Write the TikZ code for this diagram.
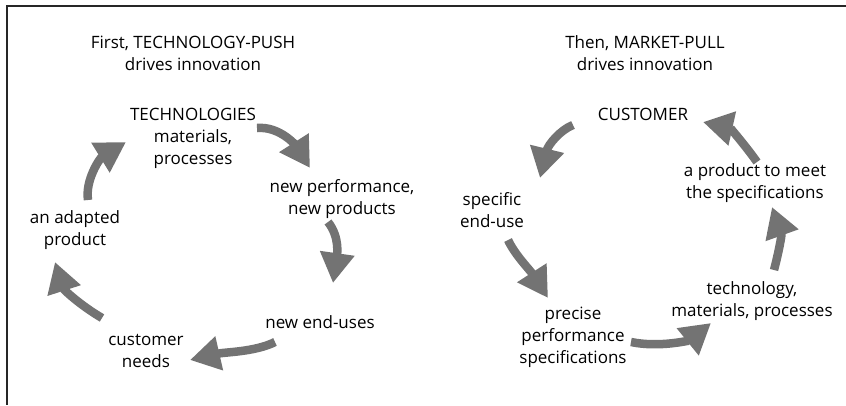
\documentclass[tikz,border=0pt]{standalone}
\usepackage{fontspec}
\setmainfont{Open Sans}
\usetikzlibrary{arrows.meta}
\begin{document}
\begin{tikzpicture}[x=1pt,y=-1pt,
  lbl/.style={align=center,inner sep=0pt,font=\fontsize{17}{22}\selectfont},
  bigarrow/.style={draw=black!55,line width=8.5pt,-{Triangle[width=33pt,length=30pt]}},
  frame/.style={line width=1.2pt,black!85}]
\useasboundingbox (0,0) rectangle (846,405);
\draw[frame] (846,6) -- (7,6) -- (7,405);
% left cycle
\node[lbl] (t1) at (193,53) {First, TECHNOLOGY-PUSH\\drives innovation};
\node[lbl] (tech) at (193,138) {TECHNOLOGIES\\materials,\\processes};
\node[lbl] (perf) at (342,199) {new performance,\\new products};
\node[lbl] (uses) at (320,322) {new end-uses};
\node[lbl] (needs) at (146,351) {customer\\needs};
\node[lbl] (adapt) at (75,230) {an adapted\\product};
% right cycle
\node[lbl] (t2) at (645,53) {Then, MARKET-PULL\\drives innovation};
\node[lbl] (cust) at (643,114) {CUSTOMER};
\node[lbl] (spec) at (492,210) {specific\\end-use};
\node[lbl] (prec) at (573,337) {precise\\performance\\specifications};
\node[lbl] (techm) at (752,301) {technology,\\materials, processes};
\node[lbl] (prod) at (755,183) {a product to meet\\the specifications};
% arrow end points
\coordinate (a1s) at (257,128); \coordinate (a1e) at (310,168);
\coordinate (a2s) at (328,222); \coordinate (a2e) at (333,283);
\coordinate (a3s) at (275,342); \coordinate (a3e) at (190,360);
\coordinate (a4s) at (102,318); \coordinate (a4e) at (55,262);
\coordinate (a5s) at (88,200);  \coordinate (a5e) at (126,142);
\coordinate (b1s) at (573,125); \coordinate (b1e) at (540,178);
\coordinate (b2s) at (508,240); \coordinate (b2e) at (548,298);
\coordinate (b3s) at (631,342); \coordinate (b3e) at (711,323);
\coordinate (b4s) at (774,270); \coordinate (b4e) at (772,207);
\coordinate (b5s) at (757,162); \coordinate (b5e) at (703,122);
\draw[bigarrow] (a1s) .. controls (280,126) and (296,146) .. (a1e);
\draw[bigarrow] (a2s) .. controls (340,237) and (337,255) .. (a2e);
\draw[bigarrow] (a3s) .. controls (255,352) and (225,352) .. (a3e);
\draw[bigarrow] (a4s) .. controls (80,305) and (64,290) .. (a4e);
\draw[bigarrow] (a5s) .. controls (85,180) and (100,158) .. (a5e);
\draw[bigarrow] (b1s) .. controls (560,130) and (548,145) .. (b1e);
\draw[bigarrow] (b2s) .. controls (515,255) and (530,270) .. (b2e);
\draw[bigarrow] (b3s) .. controls (660,348) and (690,340) .. (b3e);
\draw[bigarrow] (b4s) .. controls (778,255) and (782,235) .. (b4e);
\draw[bigarrow] (b5s) .. controls (745,145) and (730,128) .. (b5e);
\end{tikzpicture}
\end{document}
